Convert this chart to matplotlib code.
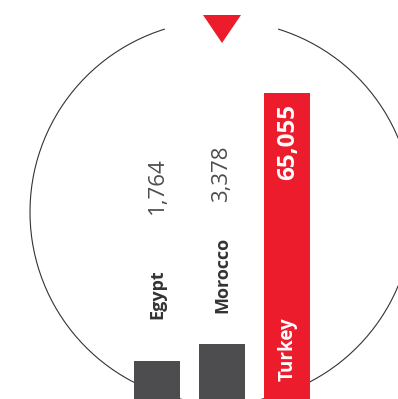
import matplotlib
matplotlib.use("Agg")
import matplotlib.pyplot as plt
import numpy as np
from matplotlib.patches import Arc, Polygon

countries = ["Egypt", "Morocco", "Turkey"]
values = [1764, 3378, 65055]
value_labels = ["1,764", "3,378", "65,055"]
bar_colors = ["#4d4d4f", "#4d4d4f", "#ed1c2c"]
highlight = [False, False, True]

RED = "#ed1c2c"
W, H = 398, 399
fig = plt.figure(figsize=(W / 100, H / 100), dpi=100)
fig.patch.set_facecolor("white")

# background overlay in pixel coordinates (y down)
bg = fig.add_axes([0, 0, 1, 1], zorder=0)
bg.set_xlim(0, W)
bg.set_ylim(H, 0)
bg.axis("off")
cx, cy, r = 221.5, 212, 191.5
gap = 17.2
arc = Arc((cx, cy), 2 * r, 2 * r, angle=0, theta1=270 + gap, theta2=270 - gap + 360,
          color="#333333", lw=0.8)
bg.add_patch(arc)
tri = Polygon([[203, 15], [241, 15], [222, 43]], closed=True, color=RED, lw=0)
bg.add_patch(tri)

# bar axes
ax = fig.add_axes([0, 0, 1, 1], zorder=1)
ax.patch.set_alpha(0)
p = 0.58
ax.set_yscale("function", functions=(lambda v: np.sign(v) * np.abs(v) ** p,
                                     lambda v: np.sign(v) * np.abs(v) ** (1 / p)))
x = np.arange(len(values))
ax.bar(x, values, width=46 / 65, color=bar_colors, linewidth=0)
ax.set_ylim(0, 103000)
ax.set_xlim(-157 / 65, (W - 157) / 65)
ax.axis("off")

# labels
def px(xp, yp):
    return xp / W, 1 - yp / H

val_font = dict(family=["Open Sans", "DejaVu Sans"])
name_pos = [(157.5, 294.5), (222, 274.5), (287.5, 349)]
val_pos = [(157, 185.5), (222, 174), (288, 142.5)]
for i in range(len(values)):
    if highlight[i]:
        vc, nc, vw = "white", "white", "bold"
        vs = 17.5
    else:
        vc, nc, vw = "#4d4d4f", "#333333", "normal"
        vs = 16
    fig.text(*px(*val_pos[i]), value_labels[i], rotation=90, ha="center", va="center",
             color=vc, fontsize=vs, fontweight=vw, zorder=3, **val_font)
    fig.text(*px(*name_pos[i]), countries[i], rotation=90, ha="center", va="center",
             color=nc, fontsize=13.5 if highlight[i] else 13, fontweight="bold",
             zorder=3, **val_font)

fig.savefig("out.png", dpi=100)
